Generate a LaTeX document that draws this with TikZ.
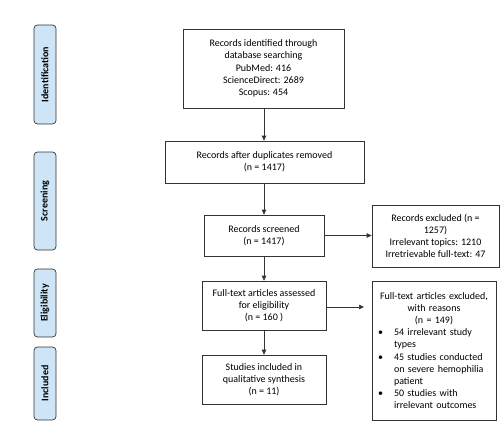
\documentclass[tikz,border=0pt]{standalone}
\usepackage{fontspec}
\setmainfont{Carlito}
\usepackage{enumitem}
\usetikzlibrary{arrows.meta}
\definecolor{sidefill}{HTML}{CDE5F7}
\definecolor{edge}{HTML}{333333}
\tikzset{
  box/.style={draw=edge, line width=0.7pt, align=center, inner sep=2pt, font=\fontsize{10}{12.2}\selectfont},
  side/.style={draw=edge, line width=0.7pt, fill=sidefill, rounded corners=3.5pt, rotate=90, font=\fontsize{10}{12}\selectfont\bfseries, inner sep=0pt},
  arr/.style={draw=edge, line width=0.7pt, -{Triangle[length=5pt,width=4.5pt]}},
}
\begin{document}
\begin{tikzpicture}[x=1pt,y=-1pt]
\useasboundingbox (0,0) rectangle (504,432);
% side labels
\node[side, minimum width=99pt, minimum height=22pt] (sid) at (45,74.5) {Identification};
\node[side, minimum width=98pt, minimum height=22pt] (ssc) at (45,201) {Screening};
\node[side, minimum width=68pt, minimum height=22pt] (sel) at (45,303) {Eligibility};
\node[side, minimum width=73pt, minimum height=22pt] (sin) at (45,383.5) {Included};
% main boxes
\node[box, minimum width=161pt, minimum height=79pt] (b1) at (263.5,68.5) {Records identified through\\database searching\\PubMed: 416\\ScienceDirect: 2689\\Scopus: 454};
\node[box, minimum width=199pt, minimum height=42pt] (b2) at (264.5,162) {Records after duplicates removed\\(n = 1417)};
\node[box, minimum width=120pt, minimum height=41pt] (b3) at (264,235.5) {Records screened\\(n = 1417)};
\node[box, minimum width=124pt, minimum height=49pt] (b4) at (264,305.5) {Full-text articles assessed\\for eligibility\\(n = 160 )};
\node[box, minimum width=124pt, minimum height=49pt] (b5) at (264,379.5) {Studies included in\\qualitative synthesis\\(n = 11)};
\node[box, minimum width=127pt, minimum height=62pt] (e1) at (435.5,236) {Records excluded (n =\\1257)\\Irrelevant topics: 1210\\Irretrievable full-text: 47};
\node[box, minimum width=124pt, minimum height=139pt, text width=118pt, align=left] (e2) at (434,350.5) {%
  {\centering Full-text articles excluded,\\with reasons\\(n = 149)\par}%
  \begin{itemize}[leftmargin=19pt,labelsep=11pt,itemsep=0pt,topsep=0pt,parsep=0pt,partopsep=0pt]
  \item 54 irrelevant study types
  \item 45 studies conducted on severe hemophilia patient
  \item 50 studies with irrelevant outcomes
  \end{itemize}};
% connectors
\coordinate (a4) at (364,307);
\draw[arr] (b1.south -| 264,0) -- (b2.north -| 264,0);
\draw[arr] (b2.south -| 264,0) -- (b3.north -| 264,0);
\draw[arr] (b3.south) -- (b4.north);
\draw[arr] (b4.south) -- (b5.north);
\draw[arr] (b3.east) -- (b3.east -| e1.west);
\draw[arr] (b4.east |- a4) -- (a4);
\end{tikzpicture}
\end{document}
